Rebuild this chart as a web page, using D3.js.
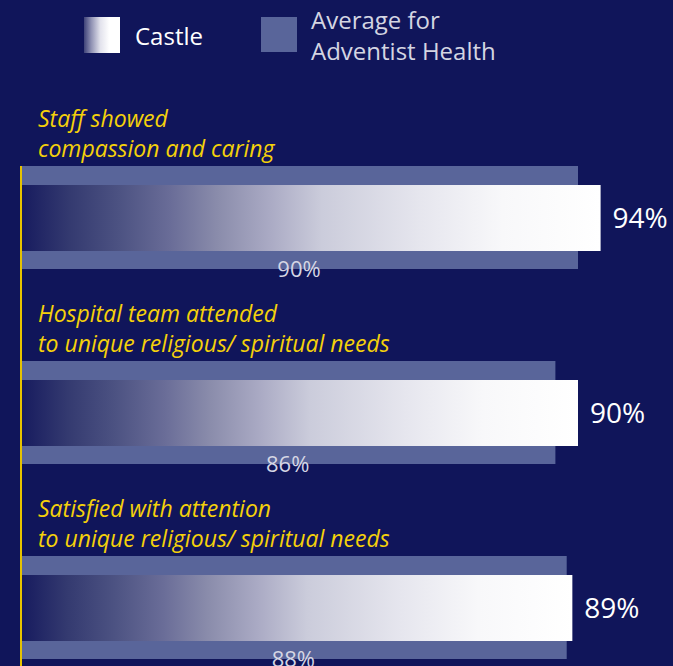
<!DOCTYPE html>
<html>
<head>
<meta charset="utf-8">
<script src="https://cdn.jsdelivr.net/npm/d3@7"></script>
<style>
  html, body { margin: 0; padding: 0; background: #10155a; }
  svg { display: block; }
</style>
</head>
<body>
<svg width="673" height="666"></svg>
<script>
const questions = [
  ["Staff showed", "compassion and caring"],
  ["Hospital team attended", "to unique religious/ spiritual needs"],
  ["Satisfied with attention", "to unique religious/ spiritual needs"]
];
const castle = [94, 90, 89];
const average = [90, 86, 88];
const legendLabels = [["Castle"], ["Average for", "Adventist Health"]];

const svg = d3.select("svg");
const width = 673, height = 666;
const axisX = 20;
const groupTop = 166, groupStep = 195;

svg.append("rect").attr("width", width).attr("height", height).attr("fill", "#10155a");

const defs = svg.append("defs");
function gradient(id, stops) {
  const g = defs.append("linearGradient").attr("id", id)
    .attr("x1", "0%").attr("x2", "100%").attr("y1", "0%").attr("y2", "0%");
  stops.forEach(s => g.append("stop").attr("offset", s[0]).attr("stop-color", s[1]));
}
gradient("castleGrad", [[0, "#161a5e"], [0.086, "#343a70"], [0.17, "#4c5282"], [0.26, "#6a6d98"],
  [0.34, "#8a8cab"], [0.43, "#aaaac4"], [0.52, "#cbccdb"], [0.69, "#e6e6ee"],
  [0.83, "#f8f8fa"], [1, "#ffffff"]]);
gradient("legendGrad", [[0, "#3e4278"], [0.2, "#8f91b3"], [0.45, "#e2e2ec"], [0.7, "#ffffff"], [1, "#ffffff"]]);

const x = d3.scaleLinear().domain([0, 100]).range([69.5, 634.5]);
const y = d3.scaleBand().domain(d3.range(questions.length))
  .range([groupTop, groupTop + groupStep * questions.length]);

// legend
const legend = svg.append("g").attr("class", "legend");
legend.append("rect").attr("x", 84).attr("y", 17).attr("width", 36).attr("height", 36)
  .attr("fill", "url(#legendGrad)");
legend.append("text").attr("x", 135).attr("y", 45).text(legendLabels[0][0])
  .attr("fill", "#ffffff").style("font", "24px 'Open Sans'");
legend.append("rect").attr("x", 261).attr("y", 17).attr("width", 36).attr("height", 35)
  .attr("fill", "#59659a");
legend.selectAll("text.avg").data(legendLabels[1]).enter().append("text")
  .attr("class", "avg")
  .attr("x", 311).attr("y", (d, i) => 29 + i * 31)
  .attr("fill", "#d4d5e2").style("font", "24px 'Open Sans'")
  .text(d => d);

// groups
const groups = svg.selectAll("g.group").data(questions).enter().append("g")
  .attr("class", "group")
  .attr("transform", (d, i) => `translate(0,${y(i)})`);

groups.selectAll("text.title").data(d => d).enter().append("text")
  .attr("class", "title")
  .attr("x", 38).attr("y", (d, i) => -39 + i * 30)
  .attr("fill", "#f5d10a")
  .style("font", "italic 500 23px 'Open Sans'")
  .text(d => d);

groups.append("rect")
  .attr("x", axisX).attr("y", 0)
  .attr("width", (d, i) => x(average[i]) - axisX).attr("height", 103)
  .attr("fill", "#59659a");

groups.append("rect")
  .attr("x", axisX).attr("y", 19)
  .attr("width", (d, i) => x(castle[i]) - axisX).attr("height", 66)
  .attr("fill", "url(#castleGrad)");

groups.append("text")
  .attr("x", (d, i) => x(castle[i]) + 12).attr("y", 62)
  .attr("fill", "#ffffff").style("font", "28px 'Open Sans'")
  .text((d, i) => castle[i] + "%");

groups.append("text")
  .attr("x", (d, i) => (axisX + x(average[i])) / 2).attr("y", 111)
  .attr("text-anchor", "middle")
  .attr("fill", "#d5d6e4").style("font", "22px 'Open Sans'")
  .text((d, i) => average[i] + "%");

// axis line
svg.append("line")
  .attr("x1", axisX + 1).attr("x2", axisX + 1)
  .attr("y1", groupTop).attr("y2", height)
  .attr("stroke", "#e6c300").attr("stroke-width", 2);
</script>
</body>
</html>
